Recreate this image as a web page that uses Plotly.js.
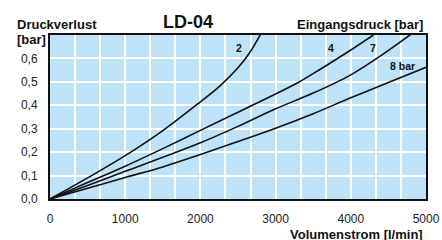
<!DOCTYPE html>
<html>
<head>
<meta charset="utf-8">
<script src="https://cdn.plot.ly/plotly-3.0.1.min.js"></script>
<style>html,body{margin:0;padding:0;background:#fff;}#chart{width:442px;height:240px;}</style>
</head>
<body>
<div id="chart"></div>
<script>
// Volumenstrom [l/min] and Druckverlust [bar] per Eingangsdruck
const flow2 = [0, 500, 1000, 1500, 2000, 2250, 2500, 2650, 2800];
const loss2 = [0, 0.09, 0.185, 0.292, 0.415, 0.48, 0.56, 0.622, 0.703];

const flow4 = [0, 500, 1000, 1500, 2000, 2500, 3000, 3300, 3600, 4000, 4300];
const loss4 = [0, 0.07, 0.14, 0.215, 0.293, 0.37, 0.448, 0.497, 0.555, 0.636, 0.70];

const flow7 = [0, 500, 1000, 1500, 2000, 2500, 3000, 3500, 4000, 4400, 4800];
const loss7 = [0, 0.058, 0.118, 0.178, 0.24, 0.31, 0.385, 0.452, 0.53, 0.612, 0.703];

const flow8 = [0, 500, 1000, 1500, 2000, 2500, 3000, 3500, 4000, 4500, 5000];
const loss8 = [0, 0.046, 0.092, 0.137, 0.19, 0.245, 0.302, 0.364, 0.432, 0.497, 0.562];

const seriesLabels = ["2", "4", "7", "8 bar"];
const labelX = [2507, 3737, 4299, 4690];
const labelY = [0.646, 0.646, 0.646, 0.568];

const xTickVals = [0, 1000, 2000, 3000, 4000, 5000];
const xTickText = ["0", "1000", "2000", "3000", "4000", "5000"];
const yTickVals = [0, 0.1, 0.2, 0.3, 0.4, 0.5, 0.6];
const yTickText = ["0,0", "0,1", "0,2", "0,3", "0,4", "0,5", "0,6"];

const FONT = "Liberation Sans, Arial, Helvetica, sans-serif";
const lineStyle = {color: "#111", width: 1.6, shape: "spline", smoothing: 1};

const traces = [[flow2, loss2], [flow4, loss4], [flow7, loss7], [flow8, loss8]].map((d, i) => ({
  x: d[0], y: d[1], type: "scatter", mode: "lines", line: lineStyle,
  name: seriesLabels[i], hoverinfo: "skip", showlegend: false
}));

const annotations = seriesLabels.map((t, i) => ({
  x: labelX[i], y: labelY[i], xref: "x", yref: "y", text: "<b>" + t + "</b>",
  showarrow: false, xanchor: "center", yanchor: "middle",
  font: {family: FONT, size: 10.5, color: "#111"}
}));

annotations.push(
  {xref: "paper", yref: "paper", x: 0.367, y: 1.079, xanchor: "center", yanchor: "middle",
   text: "<b>LD-04</b>", showarrow: false, font: {family: FONT, size: 18, color: "#111"}},
  {xref: "paper", yref: "paper", x: -0.094, y: 1.067, xanchor: "left", yanchor: "middle",
   text: "<b>Druckverlust</b>", showarrow: false, font: {family: FONT, size: 13, color: "#111"}},
  {xref: "paper", yref: "paper", x: -0.094, y: 0.97, xanchor: "left", yanchor: "middle",
   text: "<b>[bar]</b>", showarrow: false, font: {family: FONT, size: 13, color: "#111"}},
  {xref: "paper", yref: "paper", x: 0.997, y: 1.067, xanchor: "right", yanchor: "middle",
   text: "<b>Eingangsdruck [bar]</b>", showarrow: false, font: {family: FONT, size: 13, color: "#111"}},
  {xref: "paper", yref: "paper", x: 0.997, y: -0.218, xanchor: "right", yanchor: "middle",
   text: "<b>Volumenstrom [l/min]</b>", showarrow: false, font: {family: FONT, size: 13, color: "#111"}}
);

const layout = {
  width: 442, height: 240,
  margin: {l: 50, r: 16, t: 35, b: 41, pad: 0},
  paper_bgcolor: "#ffffff",
  plot_bgcolor: "#bee3f8",
  separators: ",.",
  font: {family: FONT, size: 12, color: "#222"},
  xaxis: {
    range: [0, 5000], tickvals: xTickVals, ticktext: xTickText,
    showgrid: true, gridcolor: "#ffffff", gridwidth: 2,
    minor: {dtick: 1000 / 3, tick0: 0, showgrid: true, gridcolor: "#ffffff", gridwidth: 2},
    showline: true, linecolor: "#111", linewidth: 2, mirror: true,
    zeroline: false, ticks: "", ticklabelstandoff: 8,
    tickfont: {family: FONT, size: 12, color: "#222"}
  },
  yaxis: {
    range: [0, 0.7], tickvals: yTickVals, ticktext: yTickText,
    showgrid: true, gridcolor: "#ffffff", gridwidth: 2,
    showline: true, linecolor: "#111", linewidth: 2, mirror: true,
    zeroline: false, ticks: "", ticklabelstandoff: 8,
    tickfont: {family: FONT, size: 12, color: "#222"}
  },
  annotations: annotations,
  showlegend: false
};

Plotly.newPlot("chart", traces, layout, {staticPlot: true, displayModeBar: false});
</script>
</body>
</html>
